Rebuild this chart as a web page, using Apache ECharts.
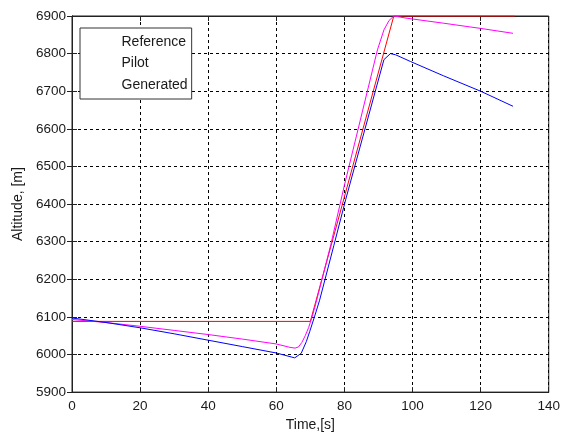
<!DOCTYPE html>
<html>
<head>
<meta charset="utf-8">
<script src="https://cdn.jsdelivr.net/npm/echarts@6/dist/echarts.min.js"></script>
<style>html,body{margin:0;padding:0;background:#fff;}#c{width:563px;height:437px;}</style>
</head>
<body>
<div id="c"></div>
<script>
const xTicks = [0, 20, 40, 60, 80, 100, 120, 140];
const yTicks = [5900, 6000, 6100, 6200, 6300, 6400, 6500, 6600, 6700, 6800, 6900];

const refTime = [0, 70, 94.5, 130];
const refAlt  = [6088, 6088, 6900, 6900];

const pilotTime = [0, 10, 20, 30, 40, 50, 60, 64, 65.5, 66.5, 67.5, 68.5, 69.5, 70.5, 71.5, 76, 80, 89.7, 91.6, 93.1, 94.5, 98.4, 109, 120, 129.5];
const pilotAlt  = [6093, 6085, 6075, 6064, 6053, 6041, 6028, 6019, 6017, 6020, 6032, 6050, 6072, 6100, 6132, 6292, 6450, 6810, 6863, 6888, 6900, 6894, 6881, 6867, 6854];

const genTime = [0, 10, 20, 30, 40, 50, 60, 65.4, 67.3, 68.8, 69.8, 71.2, 72.7, 76.9, 80.4, 91.6, 93.5, 95, 99.4, 109.1, 120, 129.5];
const genAlt  = [6097, 6085, 6071, 6055, 6038, 6021, 6004, 5991, 6003, 6034, 6061, 6100, 6144, 6290, 6413, 6784, 6800, 6797, 6779, 6741, 6700, 6660];

const seriesNames = ['Reference', 'Pilot', 'Generated'];
const seriesColors = ['#ff0000', '#ff00ff', '#0000ff'];

const zip = (t, v) => t.map((x, i) => [x, v[i]]);
const font = 'Liberation Sans, Arial, sans-serif';
const axisCol = '#222';
const gridLine = { show: true, lineStyle: { color: '#000', width: 1, type: [3, 3] } };

const chart = echarts.init(document.getElementById('c'), null, { renderer: 'canvas' });
chart.setOption({
  backgroundColor: '#fff',
  animation: false,
  grid: { left: 72, top: 16, right: 10, bottom: 43, show: true, borderColor: axisCol, borderWidth: 1, backgroundColor: '#fff' },
  legend: {
    orient: 'vertical', left: 80, top: 28,
    padding: [7, 4, 7, 8], itemWidth: 44, itemHeight: 13, itemGap: 7.5,
    backgroundColor: '#fff', borderColor: '#333', borderWidth: 1, borderRadius: 0,
    textStyle: { fontFamily: font, fontSize: 14, color: '#1a1a1a' },
    data: seriesNames.map((n, i) => ({
      name: n, icon: 'circle',
      itemStyle: { color: 'rgba(0,0,0,0)', borderColor: 'rgba(0,0,0,0)', borderWidth: 0, opacity: 0 },
      lineStyle: { color: seriesColors[i], width: 1, opacity: 1 }
    }))
  },
  xAxis: [{
    type: 'value', min: xTicks[0], max: xTicks[xTicks.length - 1], interval: 20,
    name: 'Time,[s]', nameLocation: 'middle', nameGap: 24,
    nameTextStyle: { fontFamily: font, fontSize: 14, color: '#1a1a1a' },
    axisLine: { show: true, lineStyle: { color: axisCol } },
    axisTick: { show: true, inside: true, length: 5, lineStyle: { color: axisCol } },
    axisLabel: { fontFamily: font, fontSize: 13.5, color: '#1a1a1a', margin: 7, formatter: v => String(v) },
    splitLine: gridLine
  }, {
    type: 'value', position: 'top', min: xTicks[0], max: xTicks[xTicks.length - 1], interval: 20,
    axisLine: { show: true, lineStyle: { color: axisCol } },
    axisTick: { show: true, inside: true, length: 5, lineStyle: { color: axisCol } },
    axisLabel: { show: false }, splitLine: { show: false }
  }],
  yAxis: [{
    type: 'value', min: yTicks[0], max: yTicks[yTicks.length - 1], interval: 100,
    name: 'Altitude, [m]', nameLocation: 'middle', nameGap: 39,
    nameTextStyle: { fontFamily: font, fontSize: 14, color: '#1a1a1a' },
    axisLine: { show: true, lineStyle: { color: axisCol } },
    axisTick: { show: true, inside: true, length: 5, lineStyle: { color: axisCol } },
    axisLabel: { fontFamily: font, fontSize: 13.5, color: '#1a1a1a', margin: 6, formatter: v => String(v) },
    splitLine: gridLine
  }, {
    type: 'value', position: 'right', min: yTicks[0], max: yTicks[yTicks.length - 1], interval: 100,
    axisLine: { show: true, lineStyle: { color: axisCol } },
    axisTick: { show: true, inside: true, length: 5, lineStyle: { color: axisCol } },
    axisLabel: { show: false }, splitLine: { show: false }
  }],
  series: [
    { name: seriesNames[0], type: 'line', data: zip(refTime, refAlt), symbol: 'none', lineStyle: { color: seriesColors[0], width: 1 }, itemStyle: { color: seriesColors[0] }, z: 3 },
    { name: seriesNames[1], type: 'line', data: zip(pilotTime, pilotAlt), symbol: 'none', lineStyle: { color: seriesColors[1], width: 1 }, itemStyle: { color: seriesColors[1] }, z: 4 },
    { name: seriesNames[2], type: 'line', data: zip(genTime, genAlt), symbol: 'none', lineStyle: { color: seriesColors[2], width: 1 }, itemStyle: { color: seriesColors[2] }, z: 5 }
  ]
});
</script>
</body>
</html>
